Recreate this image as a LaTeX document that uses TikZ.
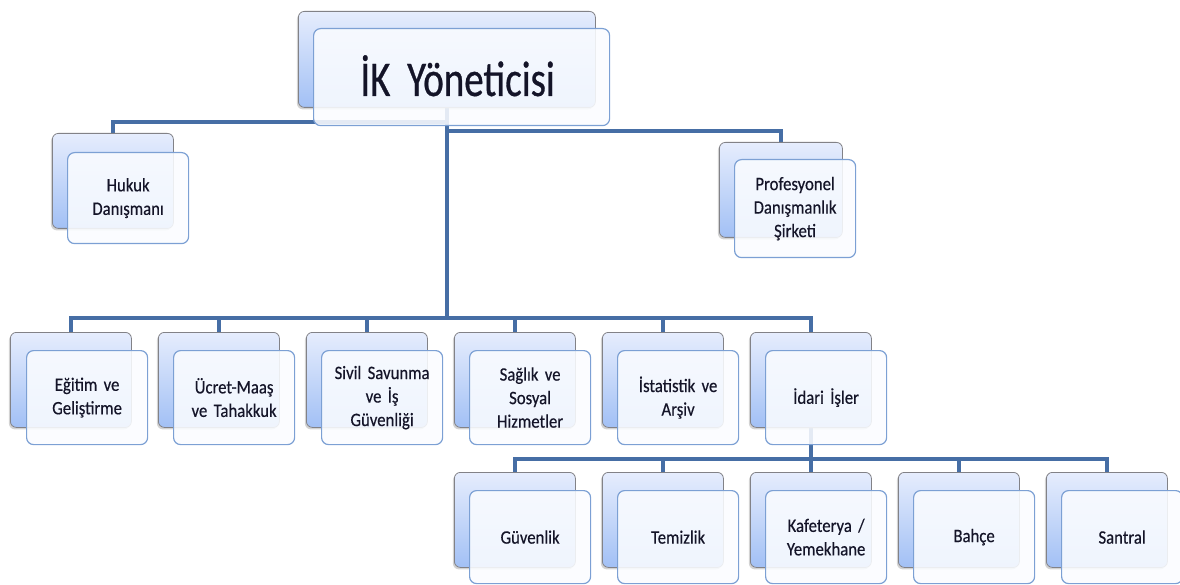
\documentclass[tikz,border=0pt]{standalone}
\usepackage{fontspec}
\setmainfont{Carlito}[FakeStretch=0.88,FakeBold=0.4,WordSpace=0.7]
\newfontfamily\bigfont{Carlito}[FakeStretch=0.78,FakeBold=0.6,WordSpace=0.7]
\usetikzlibrary{shadows,backgrounds,calc}
\definecolor{conncol}{RGB}{70,110,165}
\definecolor{backtop}{RGB}{230,237,253}
\definecolor{backbot}{RGB}{162,192,245}
\definecolor{backedge}{RGB}{130,130,135}
\definecolor{frontedge}{RGB}{124,160,212}
\definecolor{frontfill}{RGB}{250,252,255}
\definecolor{txt}{RGB}{20,20,40}
\tikzset{
  backbox/.style={rectangle, rounded corners=6pt, draw=backedge, line width=0.8pt,
    top color=backtop, bottom color=backbot, minimum width=121pt, minimum height=95pt,
    anchor=north west, inner sep=0pt,
    drop shadow={shadow xshift=-1.5pt, shadow yshift=-2pt, opacity=0.35}},
  frontbox/.style={rectangle, rounded corners=7pt, draw=frontedge, line width=1.2pt,
    fill=frontfill, fill opacity=0.88, text opacity=1, text=txt, minimum width=121pt,
    minimum height=94pt, anchor=north west, inner sep=2pt, align=center,
    text width=117pt, font=\fontsize{19}{23.5}\selectfont},
  conn/.style={draw=conncol, line width=4pt, line join=miter}
}
\begin{document}
\begin{tikzpicture}[x=1pt,y=-1pt]
\useasboundingbox (0,0) rectangle (1180,585);
% top
\node[backbox, minimum width=297pt, minimum height=96pt] (topB) at (298,11) {};
\node[frontbox, minimum width=296pt, minimum height=97pt, text width=280pt,
  font=\bigfont\fontsize{50}{56}\selectfont] (top) at (313,28) {\raisebox{3pt}{İK Yöneticisi}\hspace*{8pt}};
% level 1
\node[backbox] (hukB) at (52,133) {};
\node[frontbox, minimum height=91pt] (huk) at (67,152) {Hukuk\\Danışmanı};
\node[backbox, minimum width=123pt] (profB) at (719,142) {};
\node[frontbox, minimum height=98pt] (prof) at (734,159) {Profesyonel\\Danışmanlık\\Şirketi};
% level 2
\node[backbox] (egiB) at (10,332) {};
\node[frontbox] (egi) at (26,350) {Eğitim ve\\Geliştirme};
\node[backbox] (ucrB) at (158,332) {};
\node[frontbox] (ucr) at (173,350) {Ücret-Maaş\\ve Tahakkuk};
\node[backbox] (sivB) at (306,332) {};
\node[frontbox] (siv) at (321,350) {Sivil Savunma\\ve İş\\Güvenliği};
\node[backbox] (sagB) at (454,332) {};
\node[frontbox] (sag) at (469,350) {Sağlık ve\\Sosyal\\Hizmetler};
\node[backbox] (istB) at (602,332) {};
\node[frontbox] (ist) at (617,350) {İstatistik ve\\Arşiv};
\node[backbox] (idaB) at (750,332) {};
\node[frontbox] (ida) at (765,350) {İdari İşler};
% level 3
\node[backbox] (guvB) at (454,472) {};
\node[frontbox, minimum height=93pt] (guv) at (469,490) {Güvenlik};
\node[backbox] (temB) at (602,472) {};
\node[frontbox, minimum height=93pt] (tem) at (617,490) {Temizlik};
\node[backbox] (kafB) at (750,472) {};
\node[frontbox, minimum height=93pt] (kaf) at (765,490) {Kafeterya /\\Yemekhane};
\node[backbox] (bahB) at (898,472) {};
\node[frontbox, minimum height=93pt] (bah) at (913,490) {Bahçe};
\node[backbox] (sanB) at (1046,472) {};
\node[frontbox, minimum height=93pt] (san) at (1061,490) {Santral};
% connectors
\coordinate (bus1) at (0,318);
\coordinate (bus2) at (0,459);
\begin{pgfonlayer}{background}
\draw[conn] (topB.south) -- ++(0,14) -| (hukB.north);
\draw[conn] (topB.south) -- ++(0,23) -| (profB.north);
\foreach \n in {egiB,ucrB,sivB,sagB,istB,idaB}
  \draw[conn] (topB.south) |- (bus1 -| \n.north) -- (\n.north);
\foreach \n in {guvB,temB,kafB,bahB,sanB}
  \draw[conn] (idaB.south) |- (bus2 -| \n.north) -- (\n.north);
\end{pgfonlayer}
\end{tikzpicture}
\end{document}
